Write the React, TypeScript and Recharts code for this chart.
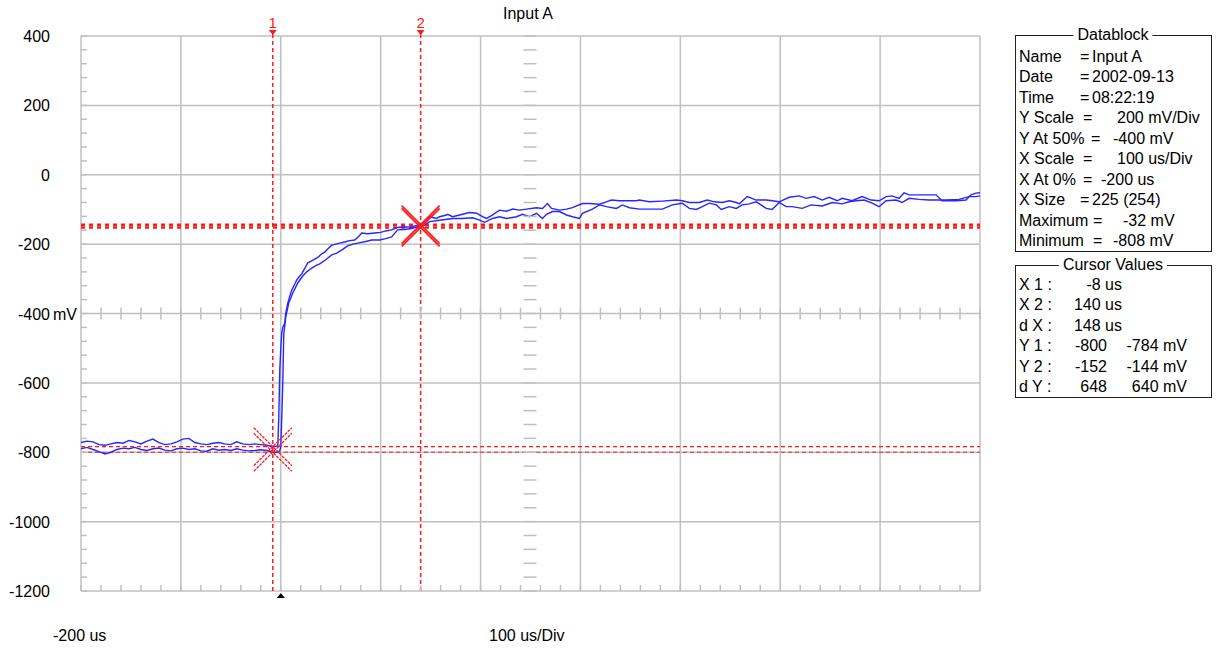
import React from "react";
import {
  ComposedChart,
  Line,
  Scatter,
  XAxis,
  YAxis,
  CartesianGrid,
  ReferenceLine,
} from "recharts";

// axis ticks
const X_MAJOR = [-200, -100, 0, 100, 200, 300, 400, 500, 600, 700];
const Y_MAJOR = [-1200, -1000, -800, -600, -400, -200, 0, 200, 400];

const range = (a: number, b: number, s: number) => {
  const out: number[] = [];
  for (let v = a; v <= b; v += s) out.push(v);
  return out;
};
const X_MINOR = range(-200, 700, 20);
const Y_MINOR = range(-1200, 400, 40);

// scope centre cross (us, mV)
const CENTER_T = 250;
const CENTER_MV = -400;

// trace A (upper envelope)
const traceATime = [
  -200, -194, -188, -182, -176, -170, -164, -158, -152, -146, -140, -134, -128, -122, -116, -110, -104, -98, -92, -86,
  -80, -74, -68, -62, -56, -50, -44, -38, -32, -26, -20, -14, -8, -3,
  -2, -1, 0, 1, 2, 4, 5, 7, 9, 11, 14, 16, 19, 21, 24, 27, 30, 34, 38, 41, 44, 47, 51, 55, 59, 64, 69, 74, 78, 81,
  87, 94, 100, 105, 111, 117, 123, 130, 135, 140,
  149, 156, 159, 166, 167, 172, 182, 189, 196, 202, 206, 211, 219, 226, 232, 239, 246, 256, 262, 267, 271, 279, 286,
  292, 302, 309, 319, 326, 331, 339, 356, 359, 369, 382, 396, 402, 409, 419, 427, 434, 442, 449, 456, 459, 467, 476,
  486, 492, 499, 509, 519, 526, 534, 542, 549, 557, 562, 572, 582, 591, 599, 606, 612, 619, 624, 629, 642, 656, 662,
  676, 686, 691, 696, 700,
];
const traceAMv = [
  -772, -768, -770, -778, -780, -776, -772, -774, -766, -770, -776, -768, -762, -772, -778, -776, -770, -762, -760, -772,
  -776, -778, -774, -772, -776, -778, -770, -776, -778, -776, -778, -780, -784, -782,
  -700, -563, -500, -456, -440, -427, -399, -370, -350, -332, -315, -303, -292, -286, -270, -254, -250, -243, -236, -228,
  -223, -214, -203, -200, -197, -194, -190, -188, -178, -168,
  -170, -168, -166, -162, -159, -152, -150, -151, -147, -146,
  -121, -126, -121, -116, -114, -121, -114, -109, -111, -121, -126, -118, -102, -105, -99, -102, -99, -95, -97, -83, -97,
  -102, -99, -95, -83, -83, -85, -78, -73, -75, -75, -73, -78, -76, -73, -75, -80, -80, -73, -78, -80, -75, -80, -84,
  -63, -73, -73, -75, -78, -65, -61, -68, -63, -73, -65, -75, -68, -75, -63, -73, -75, -63, -61, -68, -52, -58, -58,
  -58, -75, -75, -73, -58, -53, -52,
];

// trace B (lower envelope)
const traceBTime = [
  -200, -194, -188, -182, -176, -170, -164, -158, -152, -146, -140, -134, -128, -122, -116, -110, -104, -98, -92, -86,
  -80, -74, -68, -62, -56, -50, -44, -38, -32, -26, -20, -14, -8, -3,
  -1, 0, 1, 2, 3, 5, 8, 12, 17, 22, 26, 31, 35, 39, 45, 51, 56, 62, 67, 72, 77, 84, 91, 99, 105, 111, 117, 124, 131,
  137, 140,
  149, 159, 172, 182, 192, 199, 204, 212, 219, 226, 236, 242, 249, 256, 262, 266, 272, 279, 286, 292, 299, 302, 312,
  319, 326, 336, 342, 349, 359, 372, 382, 392, 402, 409, 416, 422, 429, 436, 441, 449, 456, 462, 469, 476, 486, 492,
  499, 506, 512, 522, 531, 542, 552, 562, 569, 576, 584, 592, 599, 606, 616, 622, 629, 639, 649, 666, 679, 689, 696,
  700,
];
const traceBMv = [
  -790, -786, -792, -798, -805, -800, -792, -788, -790, -786, -792, -795, -790, -788, -794, -796, -790, -788, -792, -790,
  -796, -797, -790, -794, -792, -795, -790, -794, -796, -795, -793, -795, -800, -800,
  -795, -785, -700, -600, -460, -410, -370, -341, -312, -292, -280, -269, -262, -257, -245, -231, -226, -215, -205,
  -200, -197, -193, -188, -188, -184, -179, -159, -158, -155, -150, -152,
  -135, -131, -126, -126, -124, -131, -137, -126, -121, -126, -121, -114, -121, -111, -126, -114, -106, -106, -116,
  -121, -126, -111, -99, -87, -92, -97, -87, -95, -99, -99, -99, -87, -82, -97, -100, -92, -82, -87, -100, -92, -97,
  -87, -84, -78, -97, -100, -80, -92, -92, -97, -87, -90, -80, -84, -78, -75, -73, -82, -92, -75, -73, -80, -68, -71,
  -73, -73, -71, -63, -63, -61,
];

// cursors
const CURSOR_T = [-8, 140];
const CURSOR_NAMES = ["1", "2"];
const CURSOR1_MV = [-800, -784];
const CURSOR2_MV = [-152, -144];
const TRIGGER_T = 0;

// datablock text
const DATABLOCK_LABELS = ["Name", "Date", "Time", "Y Scale", "Y At 50%", "X Scale", "X At 0%", "X Size", "Maximum", "Minimum"];
const DATABLOCK_VALUES = ["Input A", "2002-09-13", "08:22:19", "200 mV/Div", "-400 mV", "100 us/Div", "-200 us", "225 (254)", "-32 mV", "-808 mV"];
const CURSOR_LABELS = ["X 1 :", "X 2 :", "d X :", "Y 1 :", "Y 2 :", "d Y :"];
const CURSOR_VAL_A = ["-8 us", "140 us", "148 us", "-800", "-152", "648"];
const CURSOR_VAL_B = ["", "", "", "-784 mV", "-144 mV", "640 mV"];

const traceA = traceATime.map((t, i) => ({ t, mv: traceAMv[i] }));
const traceB = traceBTime.map((t, i) => ({ t, mv: traceBMv[i] }));
const centerH = X_MINOR.map((t) => ({ t, mv: CENTER_MV }));
const centerV = Y_MINOR.map((mv) => ({ t: CENTER_T, mv }));
const cursorTops = CURSOR_T.map((t, i) => ({ t, mv: 400, name: CURSOR_NAMES[i] }));
const cursor1Pts = CURSOR1_MV.map((mv) => ({ t: CURSOR_T[0], mv }));
const cursor2Pts = CURSOR2_MV.map((mv) => ({ t: CURSOR_T[1], mv }));
const triggerPt = [{ t: TRIGGER_T, mv: -1200 }];

const FONT = "'Liberation Sans', Arial, sans-serif";
const GRID = "#c0c0c0";
const RED = "#ff1a1a";
const BLUE = "#2626ff";

// layout (page pixels)
const EQ_X = [1080, 1080, 1080, 1083, 1091, 1083, 1083, 1080, 1093, 1093];
const VAL_X = [1092, 1092, 1092, 1117, 1113, 1117, 1101, 1092, 1123, 1113];

function LeftTick({ x, y, payload }: any) {
  const v = payload.value as number;
  const major = v % 200 === 0;
  return (
    <g>
      <line x1={x} x2={x + 6} y1={y} y2={y} stroke={GRID} strokeWidth={1.5} />
      {major && (
        <text x={x - 31} y={y + 6} textAnchor="end" fontSize={16} fontFamily={FONT} fill="#000">
          {v}
        </text>
      )}
      {major && v === CENTER_MV && (
        <text x={x - 28} y={y + 6} textAnchor="start" fontSize={16} fontFamily={FONT} fill="#000">
          mV
        </text>
      )}
    </g>
  );
}

function RightTick({ x, y }: any) {
  return <line x1={x - 6} x2={x} y1={y} y2={y} stroke={GRID} strokeWidth={1.5} />;
}

function BottomTick({ x, y }: any) {
  return <line x1={x} x2={x} y1={y} y2={y - 6} stroke={GRID} strokeWidth={1.5} />;
}

function TopTick({ x, y }: any) {
  return <line x1={x} x2={x} y1={y} y2={y + 7} stroke={GRID} strokeWidth={1.5} />;
}

const crossTickH = ({ cx, cy }: any) => (
  <line x1={cx} x2={cx} y1={cy - 6} y2={cy + 6} stroke={GRID} strokeWidth={1.5} />
);
const crossTickV = ({ cx, cy }: any) => (
  <line x1={cx - 7} x2={cx + 6} y1={cy} y2={cy} stroke={GRID} strokeWidth={1.5} />
);

const cursorHead = ({ cx, cy, payload }: any) => (
  <g>
    <line x1={cx} x2={cx} y1={cy - 6} y2={cy} stroke={RED} strokeWidth={1.5} />
    <text x={cx} y={cy - 8} textAnchor="middle" fontSize={15} fontFamily={FONT} fill={RED}>
      {payload.name}
    </text>
    <path d={`M${cx - 4},${cy - 6} L${cx + 4},${cy - 6} L${cx},${cy - 1} Z`} fill={RED} />
  </g>
);

const makeCross = (size: number, width: number, dash?: string) => ({ cx, cy }: any) => (
  <g stroke={RED} strokeWidth={width} strokeDasharray={dash}>
    <line x1={cx - size} y1={cy - size} x2={cx + size} y2={cy + size} />
    <line x1={cx - size} y1={cy + size} x2={cx + size} y2={cy - size} />
  </g>
);

const triggerMark = ({ cx, cy }: any) => (
  <path d={`M${cx - 4},${cy + 7} L${cx + 4},${cy + 7} L${cx},${cy + 2} Z`} fill="#000" />
);

const textStyle: React.CSSProperties = {
  position: "absolute",
  fontSize: 16,
  lineHeight: "20px",
  whiteSpace: "pre",
};

export default function App() {
  return (
    <div
      style={{
        position: "absolute",
        left: 0,
        top: 0,
        width: 1223,
        height: 650,
        background: "#fff",
        fontFamily: FONT,
        color: "#000",
        overflow: "hidden",
      }}
    >
      <div style={{ position: "absolute", left: 0, top: 0 }}>
        <ComposedChart width={1000} height={650} margin={{ top: 35, right: 19, bottom: 58, left: 0 }}>
          <CartesianGrid
            stroke={GRID}
            strokeWidth={1.5}
            verticalValues={X_MAJOR}
            horizontalValues={Y_MAJOR}
          />
          <XAxis
            type="number"
            dataKey="t"
            domain={[-200, 700]}
            ticks={X_MINOR}
            interval={0}
            height={1}
            tickSize={0}
            tickMargin={0}
            axisLine={false}
            tickLine={false}
            tick={BottomTick}
          />
          <XAxis
            xAxisId="top"
            orientation="top"
            type="number"
            dataKey="t"
            domain={[-200, 700]}
            ticks={X_MINOR}
            interval={0}
            height={1}
            tickSize={0}
            tickMargin={0}
            axisLine={false}
            tickLine={false}
            tick={TopTick}
          />
          <YAxis
            type="number"
            dataKey="mv"
            domain={[-1200, 400]}
            ticks={Y_MINOR}
            interval={0}
            width={81}
            tickSize={0}
            tickMargin={0}
            axisLine={false}
            tickLine={false}
            tick={LeftTick}
          />
          <YAxis
            yAxisId="right"
            orientation="right"
            type="number"
            dataKey="mv"
            domain={[-1200, 400]}
            ticks={Y_MINOR}
            interval={0}
            width={1}
            tickSize={0}
            tickMargin={0}
            axisLine={false}
            tickLine={false}
            tick={RightTick}
          />

          <Scatter data={centerH} dataKey="mv" shape={crossTickH} isAnimationActive={false} />
          <Scatter data={centerV} dataKey="mv" shape={crossTickV} isAnimationActive={false} />

          {CURSOR1_MV.map((mv) => (
            <ReferenceLine key={`c1${mv}`} y={mv} stroke={RED} strokeWidth={1.2} strokeDasharray="4 3" />
          ))}
          {CURSOR2_MV.map((mv) => (
            <ReferenceLine key={`c2${mv}`} y={mv} stroke={RED} strokeWidth={2.4} strokeDasharray="4 4" />
          ))}
          {CURSOR_T.map((t) => (
            <ReferenceLine key={`cx${t}`} x={t} stroke={RED} strokeWidth={1.5} strokeDasharray="4 3" />
          ))}

          <Line
            data={traceB}
            dataKey="mv"
            type="linear"
            stroke={BLUE}
            strokeWidth={1.4}
            dot={false}
            isAnimationActive={false}
          />
          <Line
            data={traceA}
            dataKey="mv"
            type="linear"
            stroke={BLUE}
            strokeWidth={1.4}
            dot={false}
            isAnimationActive={false}
          />

          <Scatter data={cursor1Pts} dataKey="mv" shape={makeCross(19, 1.3, "3 1")} isAnimationActive={false} />
          <Scatter data={cursor2Pts} dataKey="mv" shape={makeCross(19, 1.8)} isAnimationActive={false} />
          <Scatter data={cursorTops} dataKey="mv" shape={cursorHead} isAnimationActive={false} />
          <Scatter data={triggerPt} dataKey="mv" shape={triggerMark} isAnimationActive={false} />
        </ComposedChart>
      </div>

      <div style={{ ...textStyle, left: 503, top: 4 }}>Input A</div>
      <div style={{ ...textStyle, left: 53, top: 626 }}>-200 us</div>
      <div style={{ ...textStyle, left: 489, top: 626 }}>100 us/Div</div>

      <div
        style={{
          position: "absolute",
          left: 1015,
          top: 35,
          width: 197,
          height: 217,
          border: "1px solid #222",
          boxSizing: "border-box",
        }}
      />
      <div
        style={{
          ...textStyle,
          left: 1113,
          top: 25,
          transform: "translateX(-50%)",
          background: "#fff",
          padding: "0 4px",
        }}
      >
        Datablock
      </div>
      {DATABLOCK_LABELS.map((label, i) => {
        const top = 47 + i * 20.45;
        return (
          <React.Fragment key={label}>
            <div style={{ ...textStyle, left: 1019, top }}>{label}</div>
            <div style={{ ...textStyle, left: EQ_X[i], top }}>=</div>
            <div style={{ ...textStyle, left: VAL_X[i], top }}>{DATABLOCK_VALUES[i]}</div>
          </React.Fragment>
        );
      })}

      <div
        style={{
          position: "absolute",
          left: 1015,
          top: 265,
          width: 197,
          height: 133,
          border: "1px solid #222",
          boxSizing: "border-box",
        }}
      />
      <div
        style={{
          ...textStyle,
          left: 1113,
          top: 255,
          transform: "translateX(-50%)",
          background: "#fff",
          padding: "0 4px",
        }}
      >
        Cursor Values
      </div>
      {CURSOR_LABELS.map((label, i) => {
        const top = 275 + i * 20.45;
        return (
          <React.Fragment key={label}>
            <div style={{ ...textStyle, left: 1019, top }}>{label}</div>
            <div style={{ ...textStyle, right: 1223 - (i < 3 ? 1122 : 1107), top }}>{CURSOR_VAL_A[i]}</div>
            {CURSOR_VAL_B[i] && (
              <div style={{ ...textStyle, right: 1223 - 1187, top }}>{CURSOR_VAL_B[i]}</div>
            )}
          </React.Fragment>
        );
      })}
    </div>
  );
}
